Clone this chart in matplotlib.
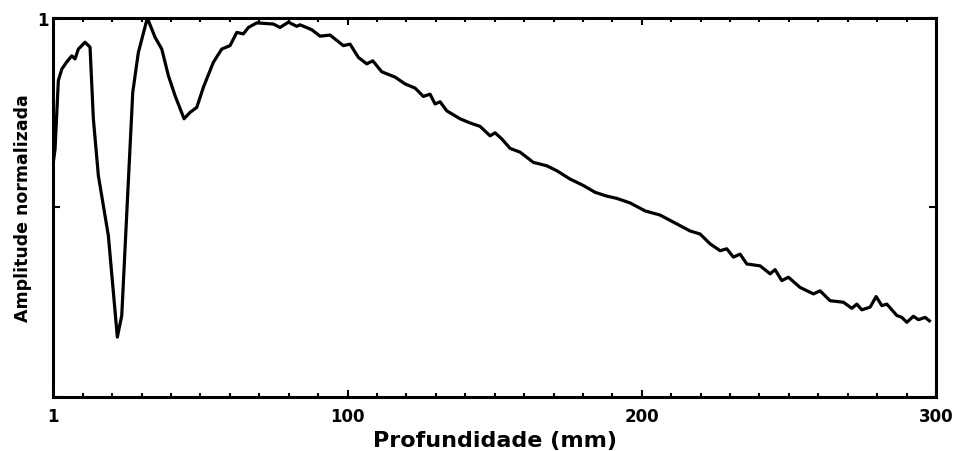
import matplotlib
matplotlib.use("Agg")
import matplotlib.pyplot as plt
from matplotlib.ticker import MultipleLocator

plt.rcParams['font.family'] = ['DejaVu Sans']
plt.rcParams['font.weight'] = 'bold'

depth = [0.0, 0.58, 1.70, 2.86, 4.55, 6.25, 7.38, 8.50, 10.78, 12.47, 13.60, 15.30, 18.69,
         21.75, 23.25, 25.15, 26.99, 28.89, 31.95, 34.57, 36.85, 39.09, 41.37, 44.43,
         46.47, 48.74, 50.99, 54.38, 57.24, 60.06, 62.34, 64.58, 66.28, 69.14, 74.78,
         77.06, 79.88, 82.73, 83.86, 87.83, 90.65, 94.05, 98.57, 100.85, 103.67, 106.53,
         108.57, 111.63, 116.15, 119.55, 122.95, 125.76, 128.04, 129.74, 131.44, 133.72,
         138.24, 141.64, 145.04, 148.44, 150.14, 152.41, 155.23, 158.63, 163.15, 167.71,
         171.11, 175.63, 180.15, 184.13, 188.10, 191.50, 196.02, 201.12, 206.22, 211.32,
         216.42, 219.82, 223.22, 226.62, 228.89, 231.14, 233.41, 235.69, 240.21, 243.61,
         245.31, 247.59, 249.83, 253.81, 258.33, 260.61, 264.00, 268.52, 271.38, 273.08,
         274.78, 277.60, 279.64, 281.58, 283.28, 286.68, 288.38, 290.08, 292.32, 294.02,
         296.30, 297.76]
amplitude = [0.62, 0.654, 0.835, 0.865, 0.884, 0.900, 0.892, 0.918, 0.936, 0.923, 0.734,
             0.584, 0.426, 0.158, 0.215, 0.515, 0.804, 0.909, 1.000, 0.949, 0.918, 0.848,
             0.795, 0.734, 0.751, 0.764, 0.817, 0.883, 0.918, 0.927, 0.962, 0.958, 0.975,
             0.987, 0.984, 0.975, 0.989, 0.978, 0.982, 0.969, 0.952, 0.955, 0.927, 0.931,
             0.896, 0.879, 0.887, 0.858, 0.844, 0.826, 0.815, 0.793, 0.799, 0.773, 0.779,
             0.755, 0.734, 0.723, 0.714, 0.689, 0.697, 0.681, 0.656, 0.646, 0.619, 0.610,
             0.597, 0.575, 0.558, 0.540, 0.530, 0.524, 0.512, 0.491, 0.480, 0.459, 0.438,
             0.430, 0.404, 0.386, 0.391, 0.369, 0.377, 0.351, 0.346, 0.325, 0.336, 0.307,
             0.316, 0.289, 0.272, 0.280, 0.254, 0.250, 0.234, 0.245, 0.230, 0.237, 0.265,
             0.241, 0.245, 0.215, 0.210, 0.197, 0.213, 0.204, 0.210, 0.201]

xtick_pos = [0, 100, 200, 300]
xtick_labels = ['1', '100', '200', '300']
ytick_pos = [0, 0.5, 1]
ytick_labels = ['', '', '1']

fig = plt.figure(figsize=(9.56, 4.52), dpi=100)
ax = fig.add_axes([0.0558, 0.1195, 0.9233, 0.8385])
ax.plot(depth, amplitude, color='black', linewidth=2.3, solid_joinstyle='round')

ax.set_xlim(0, 300)
ax.set_ylim(0, 1)
ax.set_xticks(xtick_pos)
ax.set_xticklabels(xtick_labels)
ax.xaxis.set_minor_locator(MultipleLocator(10))
ax.set_yticks(ytick_pos)
ax.set_yticklabels(ytick_labels)

for s in ax.spines.values():
    s.set_linewidth(2.2)
ax.tick_params(which='both', direction='in', top=True, right=True, labelsize=12, width=1.5)
ax.tick_params(which='major', length=5, pad=7)
ax.tick_params(which='minor', length=3)
ax.tick_params(axis='y', pad=3)

ax.set_xlabel('Profundidade (mm)', fontsize=16, fontweight='bold', labelpad=4)
ax.set_ylabel('Amplitude normalizada', fontsize=12.5, fontweight='bold', labelpad=4)

fig.savefig('out.png', dpi=100)
